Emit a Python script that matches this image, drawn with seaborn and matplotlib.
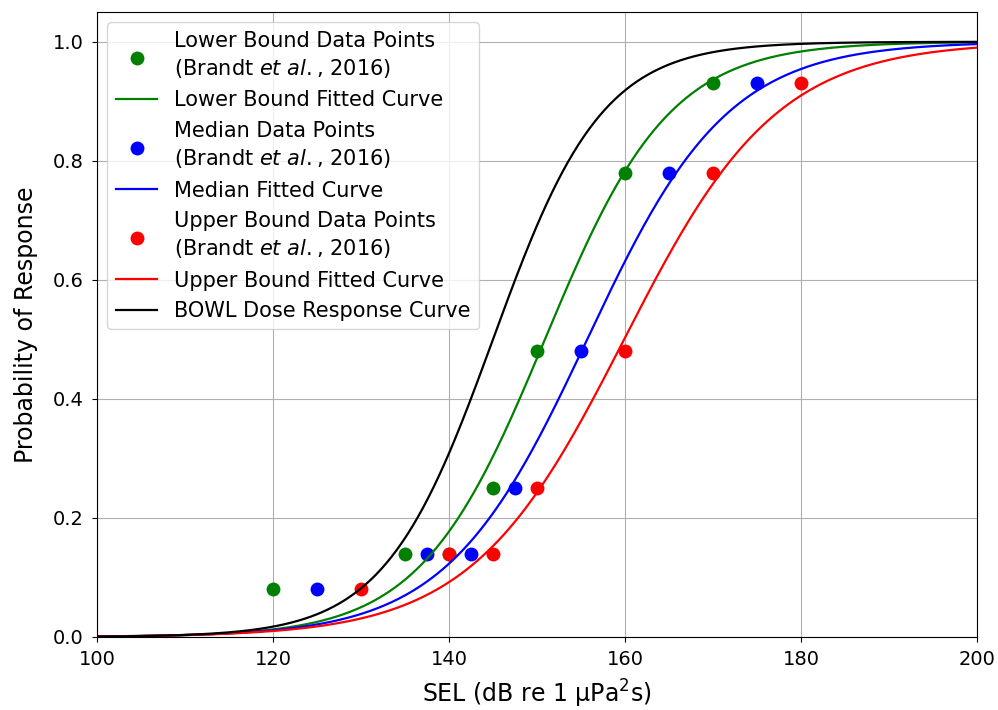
import numpy as np
import pandas as pd
import matplotlib
matplotlib.use("Agg")
import matplotlib.pyplot as plt
import seaborn as sns

# Data points (Brandt et al., 2016)
prob_levels = [0.08, 0.14, 0.14, 0.25, 0.48, 0.78, 0.93]
lower_sel = [120, 135, 140, 145, 150, 160, 170]
median_sel = [125, 137.5, 142.5, 147.5, 155, 165, 175]
upper_sel = [130, 140, 145, 150, 160, 170, 180]

# Fitted logistic curve parameters (midpoint, scale) estimated from the chart
curve_names = ["Lower Bound Fitted Curve", "Median Fitted Curve",
               "Upper Bound Fitted Curve", "BOWL Dose Response Curve"]
curve_mid = [150.9, 155.7, 159.9, 145.0]
curve_scale = [7.1, 8.0, 8.7, 6.2]
curve_colors = ["green", "blue", "red", "black"]

point_names = ["Lower Bound Data Points\n(Brandt $\\it{et\\ al.}$, 2016)",
               "Median Data Points\n(Brandt $\\it{et\\ al.}$, 2016)",
               "Upper Bound Data Points\n(Brandt $\\it{et\\ al.}$, 2016)"]
point_sel = [lower_sel, median_sel, upper_sel]
point_colors = ["green", "blue", "red"]

x_range = [100, 200]
x_ticks = [100, 120, 140, 160, 180, 200]
y_ticks = [0.0, 0.2, 0.4, 0.6, 0.8, 1.0]

fig = plt.figure(figsize=(9.98, 7.10), dpi=100)
ax = fig.add_axes([97/998, 73/710, 880/998, 625/710])

xs = np.linspace(x_range[0], x_range[1], 500)

def curve(i):
    return 1.0 / (1.0 + np.exp(-(xs - curve_mid[i]) / curve_scale[i]))

for i in range(3):
    sns.scatterplot(x=point_sel[i], y=prob_levels, color=point_colors[i], s=100,
                    linewidth=0, label=point_names[i], ax=ax, zorder=1)
    sns.lineplot(x=xs, y=curve(i), color=curve_colors[i], linewidth=1.6,
                 label=curve_names[i], ax=ax, zorder=2)
sns.lineplot(x=xs, y=curve(3), color=curve_colors[3], linewidth=1.6,
             label=curve_names[3], ax=ax, zorder=2)

ax.set_xlim(x_range)
ax.set_ylim(0, 1.05)
ax.set_xticks(x_ticks)
ax.set_yticks(y_ticks)
ax.set_xticklabels([str(t) for t in x_ticks])
ax.set_yticklabels([f"{t:.1f}" for t in y_ticks])
ax.tick_params(labelsize=14, pad=6)
ax.grid(True, color="#b0b0b0", linewidth=0.8)
ax.set_axisbelow(True)
ax.set_xlabel("SEL (dB re 1 $\\mathregular{\\mu Pa^2 s}$)", fontsize=17, labelpad=6)
ax.set_ylabel("Probability of Response", fontsize=17, labelpad=11)
leg = ax.legend(loc="upper left", fontsize=15, framealpha=0.8, labelspacing=0.5,
                borderpad=0.4)
for t in leg.get_texts():
    t.set_linespacing(1.35)

fig.savefig("out.png", dpi=100)
